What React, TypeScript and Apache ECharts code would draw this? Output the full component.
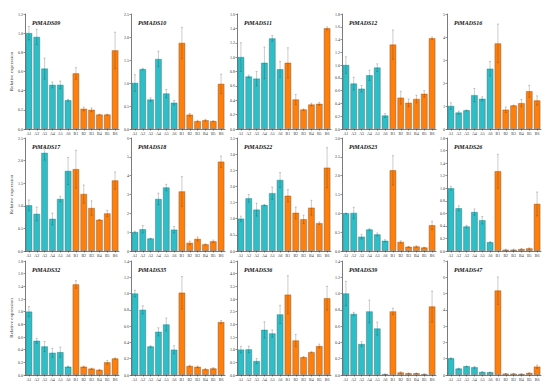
import React, { useEffect, useRef } from "react";
import * as echarts from "echarts";

const categories = ["A1", "A2", "A3", "A4", "A5", "A6", "B1", "B2", "B3", "B4", "B5", "B6"];
const genes = [
  "PtMADS09", "PtMADS10", "PtMADS11", "PtMADS12", "PtMADS16",
  "PtMADS17", "PtMADS18", "PtMADS22", "PtMADS23", "PtMADS26",
  "PtMADS32", "PtMADS35", "PtMADS36", "PtMADS39", "PtMADS47",
];
const yMax = [1.2, 2.5, 1.6, 1.8, 5, 2.5, 6, 3.5, 3.0, 1.8, 1.8, 1.4, 4.5, 1.4, 7];
const yStep = [0.2, 0.5, 0.2, 0.2, 1, 0.5, 1, 0.5, 0.5, 0.2, 0.2, 0.2, 0.5, 0.2, 1];

const v09 = [1.0, 0.96, 0.63, 0.46, 0.46, 0.3, 0.58, 0.21, 0.2, 0.15, 0.15, 0.82];
const e09 = [0.07, 0.08, 0.11, 0.03, 0.04, 0.01, 0.06, 0.02, 0.02, 0.005, 0.005, 0.19];
const v10 = [1.0, 1.3, 0.64, 1.52, 0.77, 0.57, 1.87, 0.31, 0.17, 0.19, 0.17, 0.98];
const e10 = [0.18, 0.02, 0.04, 0.17, 0.09, 0.05, 0.34, 0.03, 0.02, 0.02, 0.01, 0.21];
const v11 = [1.0, 0.73, 0.7, 0.92, 1.26, 0.83, 0.92, 0.41, 0.27, 0.34, 0.35, 1.4];
const e11 = [0.2, 0.02, 0.1, 0.22, 0.04, 0.11, 0.21, 0.07, 0.01, 0.02, 0.02, 0.02];
const v12 = [1.0, 0.71, 0.63, 0.84, 0.96, 0.21, 1.32, 0.49, 0.41, 0.47, 0.55, 1.42];
const e12 = [0.13, 0.1, 0.05, 0.08, 0.06, 0.03, 0.23, 0.1, 0.06, 0.06, 0.05, 0.02];
const v16 = [1.0, 0.71, 0.81, 1.47, 1.31, 2.62, 3.72, 0.84, 1.02, 1.12, 1.64, 1.24];
const e16 = [0.14, 0.07, 0.02, 0.29, 0.09, 0.32, 0.84, 0.12, 0.02, 0.16, 0.26, 0.2];
const v17 = [1.01, 0.82, 2.17, 0.71, 1.15, 1.77, 1.81, 1.26, 0.95, 0.69, 0.83, 1.56];
const e17 = [0.12, 0.15, 0.16, 0.13, 0.06, 0.3, 0.42, 0.2, 0.16, 0.01, 0.07, 0.19];
const v18 = [1.0, 1.15, 0.66, 2.76, 3.37, 1.13, 3.16, 0.43, 0.64, 0.35, 0.51, 4.74];
const e18 = [0.05, 0.2, 0.02, 0.31, 0.17, 0.17, 0.79, 0.1, 0.11, 0.03, 0.07, 0.3];
const v22 = [1.0, 1.63, 1.28, 1.42, 1.79, 2.2, 1.71, 1.18, 0.98, 1.34, 0.86, 2.58];
const e22 = [0.08, 0.12, 0.2, 0.02, 0.19, 0.23, 0.19, 0.18, 0.13, 0.23, 0.04, 0.62];
const v23 = [1.0, 1.01, 0.38, 0.57, 0.44, 0.27, 2.14, 0.24, 0.11, 0.12, 0.09, 0.68];
const e23 = [0.01, 0.15, 0.06, 0.02, 0.04, 0.03, 0.39, 0.03, 0.01, 0.02, 0.01, 0.11];
const v26 = [1.0, 0.68, 0.39, 0.62, 0.49, 0.14, 1.27, 0.02, 0.02, 0.03, 0.04, 0.75];
const e26 = [0.03, 0.04, 0.02, 0.05, 0.06, 0.01, 0.27, 0.01, 0.01, 0.01, 0.01, 0.19];
const v32 = [1.0, 0.54, 0.45, 0.35, 0.36, 0.13, 1.43, 0.13, 0.1, 0.08, 0.2, 0.26];
const e32 = [0.08, 0.04, 0.08, 0.07, 0.08, 0.01, 0.06, 0.01, 0.01, 0.01, 0.03, 0.01];
const v35 = [1.0, 0.8, 0.35, 0.53, 0.62, 0.31, 1.01, 0.11, 0.1, 0.07, 0.08, 0.65];
const e35 = [0.04, 0.05, 0.01, 0.05, 0.08, 0.05, 0.2, 0.01, 0.01, 0.01, 0.01, 0.02];
const v36 = [1.0, 1.01, 0.55, 1.78, 1.64, 2.39, 3.17, 1.36, 0.7, 0.9, 1.14, 3.03];
const e36 = [0.13, 0.13, 0.1, 0.32, 0.14, 0.36, 0.75, 0.24, 0.03, 0.02, 0.08, 0.47];
const v39 = [1.0, 0.75, 0.38, 0.78, 0.57, 0.01, 0.78, 0.03, 0.02, 0.02, 0.01, 0.84];
const e39 = [0.15, 0.02, 0.03, 0.14, 0.08, 0.0, 0.04, 0.01, 0.005, 0.005, 0.005, 0.19];
const v47 = [1.02, 0.39, 0.53, 0.47, 0.18, 0.16, 5.18, 0.08, 0.08, 0.06, 0.12, 0.51];
const e47 = [0.04, 0.03, 0.03, 0.06, 0.02, 0.02, 0.84, 0.01, 0.02, 0.01, 0.02, 0.1];

const values = [v09, v10, v11, v12, v16, v17, v18, v22, v23, v26, v32, v35, v36, v39, v47];
const errors = [e09, e10, e11, e12, e16, e17, e18, e22, e23, e26, e32, e35, e36, e39, e47];

const colLeft = [25, 131, 237, 342, 447];
const rowTop = [14, 138, 261];
const rowH = [115, 113, 114];
const plotW = 94;
const CYAN = "#2cbfc7";
const ORANGE = "#ff7f0a";
const FONT = "Liberation Serif";

export default function App() {
  const ref = useRef<HTMLDivElement>(null);
  useEffect(() => {
    if (!ref.current) return;
    const chart = echarts.init(ref.current, undefined, { renderer: "svg" });
    const grid: any[] = [];
    const xAxis: any[] = [];
    const yAxis: any[] = [];
    const series: any[] = [];
    const title: any[] = [];
    genes.forEach((g, i) => {
      const r = Math.floor(i / 5);
      const c = i % 5;
      grid.push({ left: colLeft[c], top: rowTop[r], width: plotW, height: rowH[r] });
      title.push({
        text: g,
        left: colLeft[c] + 2,
        top: rowTop[r] + 1,
        textStyle: { fontFamily: FONT, fontSize: 6, fontWeight: "bold", fontStyle: "italic", color: "#111" },
      });
      xAxis.push({
        type: "category",
        gridIndex: i,
        data: categories,
        axisLine: { lineStyle: { color: "#222", width: 0.6 } },
        axisTick: { show: true, length: 1.5, alignWithLabel: true, lineStyle: { color: "#222", width: 0.5 } },
        axisLabel: { fontSize: 4, margin: 2, interval: 0, color: "#333", fontFamily: FONT },
      });
      const step = yStep[i];
      yAxis.push({
        type: "value",
        gridIndex: i,
        min: 0,
        max: yMax[i],
        interval: step,
        name: c === 0 ? "Relative expression" : "",
        nameLocation: "middle",
        nameGap: 10,
        nameTextStyle: { fontFamily: FONT, fontSize: 5, color: "#333" },
        axisLine: { show: true, lineStyle: { color: "#222", width: 0.6 } },
        axisTick: { show: true, length: 1.5, lineStyle: { color: "#222", width: 0.5 } },
        splitLine: { show: false },
        axisLabel: {
          fontSize: 4,
          margin: 2,
          color: "#333",
          fontFamily: FONT,
          formatter: (v: number) => (step < 1 ? v.toFixed(1) : String(Math.round(v))),
        },
      });
      series.push({
        type: "bar",
        xAxisIndex: i,
        yAxisIndex: i,
        barCategoryGap: "18%",
        data: values[i].map((v, k) => ({
          value: v,
          itemStyle: { color: k < 6 ? CYAN : ORANGE, borderColor: "#555", borderWidth: 0.4 },
        })),
      });
      series.push({
        type: "custom",
        xAxisIndex: i,
        yAxisIndex: i,
        z: 5,
        data: values[i].map((v, k) => [k, v, errors[i][k]]),
        renderItem: (params: any, api: any) => {
          const x = api.value(0);
          const v = api.value(1);
          const e = api.value(2);
          const top = api.coord([x, v + e]);
          const bot = api.coord([x, Math.max(0, v - e)]);
          const stroke = { stroke: "rgba(40,40,40,0.4)", lineWidth: 0.6 };
          return {
            type: "group",
            children: [
              { type: "line", shape: { x1: top[0], y1: top[1], x2: bot[0], y2: bot[1] }, style: stroke },
              { type: "line", shape: { x1: top[0] - 1, y1: top[1], x2: top[0] + 1, y2: top[1] }, style: stroke },
              { type: "line", shape: { x1: bot[0] - 1, y1: bot[1], x2: bot[0] + 1, y2: bot[1] }, style: stroke },
            ],
          };
        },
      });
    });
    chart.setOption({
      animation: false,
      backgroundColor: "#fff",
      textStyle: { fontFamily: FONT },
      title,
      grid,
      xAxis,
      yAxis,
      series,
    });
    return () => chart.dispose();
  }, []);
  return (
    <div
      ref={ref}
      style={{ position: "fixed", left: 0, top: 0, width: 550, height: 390, background: "#fff" }}
    />
  );
}
